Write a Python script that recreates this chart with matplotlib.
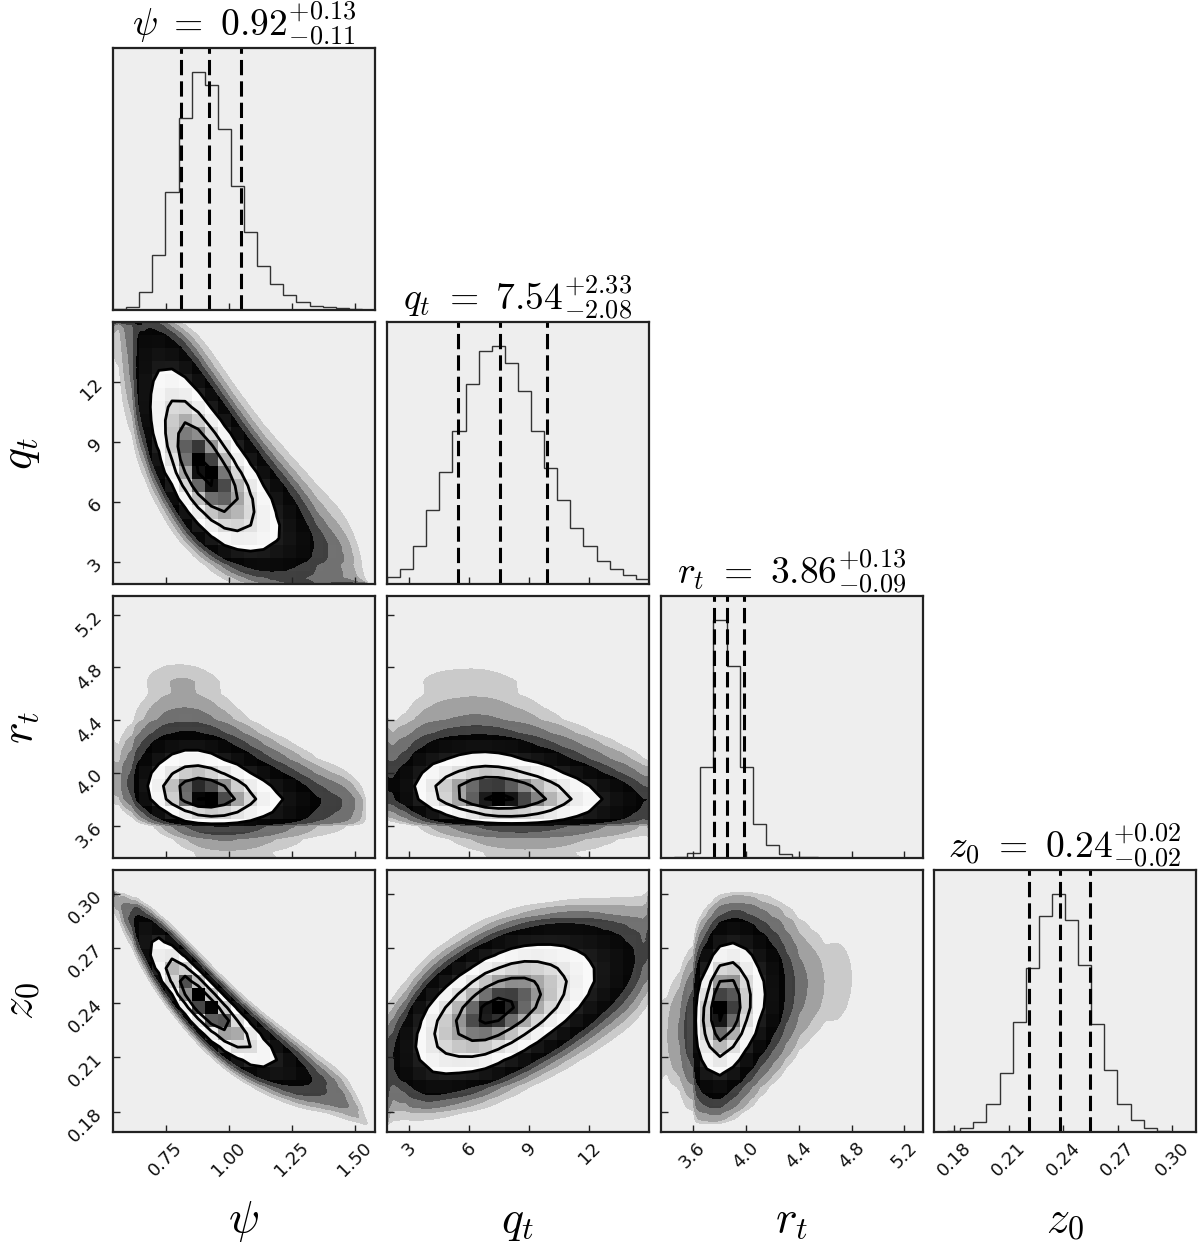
import math
import numpy as np
import matplotlib
matplotlib.use('Agg')
import matplotlib.pyplot as plt
from matplotlib.colors import LinearSegmentedColormap

plt.rcParams['mathtext.fontset'] = 'cm'
plt.rcParams['font.family'] = 'DejaVu Sans'

# parameters of the corner plot
labels = [r'\psi', r'q_t', r'r_t', r'z_0']
ranges = [(0.54, 1.58), (1.9, 14.97), (3.36, 5.34), (0.169, 0.313)]
ticks = [[0.75, 1.00, 1.25, 1.50], [3, 6, 9, 12], [3.6, 4.0, 4.4, 4.8, 5.2],
         [0.18, 0.21, 0.24, 0.27, 0.30]]
tick_fmt = ['{:.2f}', '{:d}', '{:.1f}', '{:.2f}']
medians = ['0.92', '7.54', '3.86', '0.24']
err_hi = ['0.13', '2.33', '0.13', '0.02']
err_lo = ['0.11', '2.08', '0.09', '0.02']
# 16 / 50 / 84 percentile lines
q16 = [0.81, 5.46, 3.76, 0.221]
q50 = [0.92, 7.54, 3.86, 0.238]
q84 = [1.05, 9.87, 3.99, 0.255]

# 1D histograms (20 bins over each range)
hist_psi = [2, 10, 55, 165, 352, 575, 712, 673, 540, 370, 233, 133, 78, 45, 25, 13, 8, 5, 2, 0]
hist_qt = [22, 45, 112, 220, 335, 457, 597, 695, 710, 660, 575, 457, 347, 250, 168, 112, 70, 45, 28, 15]
hist_rt = [1, 3, 15, 270, 708, 572, 270, 102, 40, 13, 4, 2, 1, 1, 0.5, 0, 0, 0, 0, 0]
hist_z0 = [0, 3, 12, 30, 85, 177, 328, 490, 647, 712, 635, 500, 323, 185, 85, 37, 12, 3, 0, 0]
hists = [hist_psi, hist_qt, hist_rt, hist_z0]

# correlation of each pair (row, col), estimated from the 2D contours
rho = {(1, 0): -0.72, (2, 0): -0.25, (3, 0): -0.92,
       (2, 1): -0.2, (3, 1): 0.55, (3, 2): 0.25}

levels = [0.118, 0.393, 0.675, 0.865]
# enclosed mass of the sample cloud and the opacity added by each band
cloud_mass = [0.999, 0.997, 0.993, 0.985, 0.97]
cloud_alpha = [0.15, 0.2, 0.3, 0.45, 1.0]

nb = 20
sub = 10
bg = '#eeeeee'

zgrid = np.linspace(-7, 7, 2801)
phi_cdf = np.array([0.5 * (1 + math.erf(z / math.sqrt(2))) for z in zgrid])


def marginal(k, x):
    counts = np.asarray(hists[k], float)
    lo, hi = ranges[k]
    edges = np.linspace(lo, hi, nb + 1)
    centers = 0.5 * (edges[1:] + edges[:-1])
    pdf = np.interp(x, centers, counts)
    pdf = pdf / pdf.sum()
    cdf = np.cumsum(pdf) - 0.5 * pdf
    z = np.interp(np.clip(cdf, 1e-10, 1 - 1e-10), phi_cdf, zgrid)
    return pdf, z


def density(i, j):
    r = rho[(i, j)]
    n = nb * sub
    xlo, xhi = ranges[j]
    ylo, yhi = ranges[i]
    xs = xlo + (np.arange(n) + 0.5) * (xhi - xlo) / n
    ys = ylo + (np.arange(n) + 0.5) * (yhi - ylo) / n
    fx, zx = marginal(j, xs)
    fy, zy = marginal(i, ys)
    ZX, ZY = np.meshgrid(zx, zy)
    c = np.exp(-(r * r * (ZX ** 2 + ZY ** 2) - 2 * r * ZX * ZY) / (2 * (1 - r * r))) / np.sqrt(1 - r * r)
    F = c * fy[:, None] * fx[None, :]
    return xs, ys, F


density_cmap = LinearSegmentedColormap.from_list('density_cmap', [(0, 0, 0, 1), (1, 1, 1, 0)])

W, H = 1200, 1256
fig = plt.figure(figsize=(W / 100, H / 100), dpi=100)
lefts = [113, 387, 661, 934]
tops = [48, 322, 596, 870]
size = 262

for i in range(4):
    for j in range(i + 1):
        ax = fig.add_axes([lefts[j] / W, 1 - (tops[i] + size) / H, size / W, size / H])
        ax.set_facecolor(bg)
        for s in ax.spines.values():
            s.set_linewidth(1.6)
            s.set_color('#222222')
        xlo, xhi = ranges[j]
        if i == j:
            edges = np.linspace(xlo, xhi, nb + 1)
            ax.stairs(hists[i], edges, color='#333333', lw=1.0)
            for q in (q16[i], q50[i], q84[i]):
                ax.axvline(q, color='k', ls=(0, (5, 2)), lw=2.2)
            ax.set_ylim(0, 1.1 * max(hists[i]))
            ax.set_yticks([])
            ax.set_title(r'$%s\ =\ %s^{+%s}_{-%s}$' % (labels[i], medians[i], err_hi[i], err_lo[i]),
                         fontsize=27, pad=4)
        else:
            xs, ys, F = density(i, j)
            # outer cloud of samples
            fs = np.sort(F.ravel())[::-1]
            cf = np.cumsum(fs)
            cf /= cf[-1]
            for m, a in zip(cloud_mass, cloud_alpha):
                t = fs[min(np.searchsorted(cf, m), len(fs) - 1)]
                ax.contourf(xs, ys, F, levels=[t, F.max() * 2], colors='k', alpha=a)
            # binned density
            Hc = F.reshape(nb, sub, nb, sub).mean(axis=(1, 3))
            flat = np.sort(Hc.ravel())[::-1]
            cum = np.cumsum(flat)
            cum /= cum[-1]
            V = []
            for lv in levels:
                sel = flat[cum <= lv]
                V.append(sel[-1] if len(sel) else flat[0] * 0.9)
            V = np.sort(V)
            for k in range(1, len(V)):
                if V[k] <= V[k - 1]:
                    V[k] = V[k - 1] * 1.0001
            xe = np.linspace(xlo, xhi, nb + 1)
            ye = np.linspace(ranges[i][0], ranges[i][1], nb + 1)
            xc = 0.5 * (xe[1:] + xe[:-1])
            yc = 0.5 * (ye[1:] + ye[:-1])
            dxb = xe[1] - xe[0]
            dyb = ye[1] - ye[0]
            xc2 = np.concatenate([[xc[0] - dxb], xc, [xc[-1] + dxb]])
            yc2 = np.concatenate([[yc[0] - dyb], yc, [yc[-1] + dyb]])
            H2 = np.zeros((nb + 2, nb + 2))
            H2[1:-1, 1:-1] = Hc
            ax.contourf(xc2, yc2, H2, levels=[V[0], Hc.max() * 2], colors='white', antialiased=False)
            ax.pcolormesh(xe, ye, Hc.max() - Hc, cmap=density_cmap, vmin=0, vmax=Hc.max())
            ax.contour(xc2, yc2, H2, levels=V, colors='k', linewidths=2.0)
            ax.set_ylim(ranges[i])
            ax.set_yticks(ticks[i])
            if j == 0:
                ax.set_yticklabels([tick_fmt[i].format(t) for t in ticks[i]], rotation=45)
            else:
                ax.set_yticklabels([])
        ax.set_xlim(xlo, xhi)
        ax.set_xticks(ticks[j])
        if i == 3:
            ax.set_xticklabels([tick_fmt[j].format(t) for t in ticks[j]], rotation=45)
        else:
            ax.set_xticklabels([])
        ax.tick_params(direction='in', length=5, width=1, colors='#222222',
                       labelcolor='#111111', labelsize=13, pad=5,
                       top=False, right=False)

# axis labels
for k in range(4):
    fig.text((lefts[k] + size / 2) / W, 1 - 1232 / H, r'$%s$' % labels[k],
             fontsize=33, ha='center', va='baseline')
for k in range(1, 4):
    fig.text(20 / W, 1 - (tops[k] + size / 2) / H, r'$%s$' % labels[k],
             fontsize=33, ha='center', va='center', rotation=90)

fig.savefig('out.png', dpi=100)
